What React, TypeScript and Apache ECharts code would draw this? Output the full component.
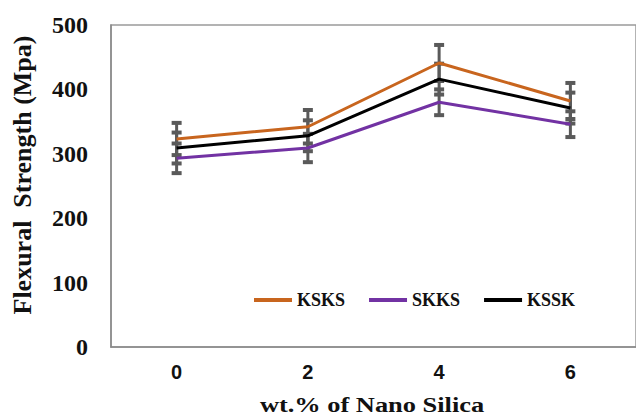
import React, { useEffect, useRef } from "react";
import * as echarts from "echarts";

const categories = ["0", "2", "4", "6"];
const ksks = [323, 342, 441, 382];
const skks = [293, 309, 380, 346];
const kssk = [309, 328, 416, 371];
const ksksErr = [25, 26, 28, 28];
const skksErr = [23, 22, 20, 20];
const ksskErr = [24, 24, 24, 24];
const yTicks = { min: 0, max: 500, interval: 100 };

const serif = "'Liberation Serif', 'Times New Roman', serif";

function errorSeries(values: number[], errs: number[]) {
  return {
    type: "custom",
    silent: true,
    z: 3,
    data: values.map((v, i) => [i, v - errs[i], v + errs[i]]),
    renderItem: (params: any, api: any) => {
      const x = api.value(0);
      const lo = api.coord([x, api.value(1)]);
      const hi = api.coord([x, api.value(2)]);
      const style = { stroke: "#5a5a5a", lineWidth: 3 };
      const cap = 5;
      return {
        type: "group",
        children: [
          { type: "line", shape: { x1: lo[0], y1: lo[1], x2: hi[0], y2: hi[1] }, style },
          { type: "line", shape: { x1: lo[0] - cap, y1: lo[1], x2: lo[0] + cap, y2: lo[1] }, style: { stroke: "#5a5a5a", lineWidth: 4 } },
          { type: "line", shape: { x1: hi[0] - cap, y1: hi[1], x2: hi[0] + cap, y2: hi[1] }, style: { stroke: "#5a5a5a", lineWidth: 4 } },
        ],
      };
    },
  };
}

export default function App() {
  const ref = useRef<HTMLDivElement>(null);
  useEffect(() => {
    if (!ref.current) return;
    const chart = echarts.init(ref.current, null, { renderer: "svg" });
    const lineSeries = (name: string, data: number[], color: string) => ({
      name,
      type: "line",
      data,
      showSymbol: false,
      symbol: "none",
      z: 4,
      lineStyle: { color, width: 3 },
      itemStyle: { color },
    });
    chart.setOption({
      animation: false,
      backgroundColor: "#ffffff",
      grid: {
        left: 111,
        top: 25,
        width: 528,
        height: 322,
        show: true,
        borderColor: "#9a9a9a",
        borderWidth: 1.5,
        containLabel: false,
      },
      legend: {
        left: 249,
        top: 286,
        itemWidth: 38,
        itemHeight: 4,
        itemGap: 24,
        icon: "rect",
        data: ["KSKS", "SKKS", "KSSK"],
        textStyle: { fontFamily: serif, fontWeight: "bold", fontSize: 18, color: "#111" },
      },
      xAxis: {
        type: "category",
        data: categories,
        boundaryGap: true,
        axisLine: { show: true, lineStyle: { color: "#8a8a8a", width: 1.5 } },
        axisTick: { show: false },
        axisLabel: {
          fontFamily: "'Liberation Sans', Arial, sans-serif",
          fontWeight: "bold",
          fontSize: 20,
          color: "#111",
          margin: 15,
        },
      },
      yAxis: {
        type: "value",
        min: yTicks.min,
        max: yTicks.max,
        interval: yTicks.interval,
        splitLine: { show: false },
        axisLine: { show: true, lineStyle: { color: "#8a8a8a", width: 1.5 } },
        axisTick: { show: false },
        axisLabel: { fontFamily: serif, fontWeight: "bold", fontSize: 24, color: "#111", margin: 23 },
      },
      graphic: [
        {
          type: "text",
          x: 22,
          y: 175,
          rotation: Math.PI / 2,
          style: {
            text: "Flexural  Strength (Mpa)",
            fontFamily: serif,
            fontWeight: "bold",
            fontSize: 26,
            fill: "#111",
            textAlign: "center",
            textVerticalAlign: "middle",
          },
        },
        {
          type: "text",
          x: 372,
          y: 404,
          scaleX: 1.2,
          style: {
            text: "wt.% of Nano Silica",
            fontFamily: serif,
            fontWeight: "bold",
            fontSize: 22,
            fill: "#111",
            textAlign: "center",
            textVerticalAlign: "middle",
          },
        },
      ],
      series: [
        lineSeries("KSKS", ksks, "#c8651e"),
        lineSeries("SKKS", skks, "#7232a3"),
        lineSeries("KSSK", kssk, "#000000"),
        errorSeries(ksks, ksksErr),
        errorSeries(skks, skksErr),
        errorSeries(kssk, ksskErr),
      ],
    });
    return () => chart.dispose();
  }, []);
  return (
    <div
      ref={ref}
      style={{ position: "absolute", left: 0, top: 0, width: 636, height: 416 }}
    />
  );
}
